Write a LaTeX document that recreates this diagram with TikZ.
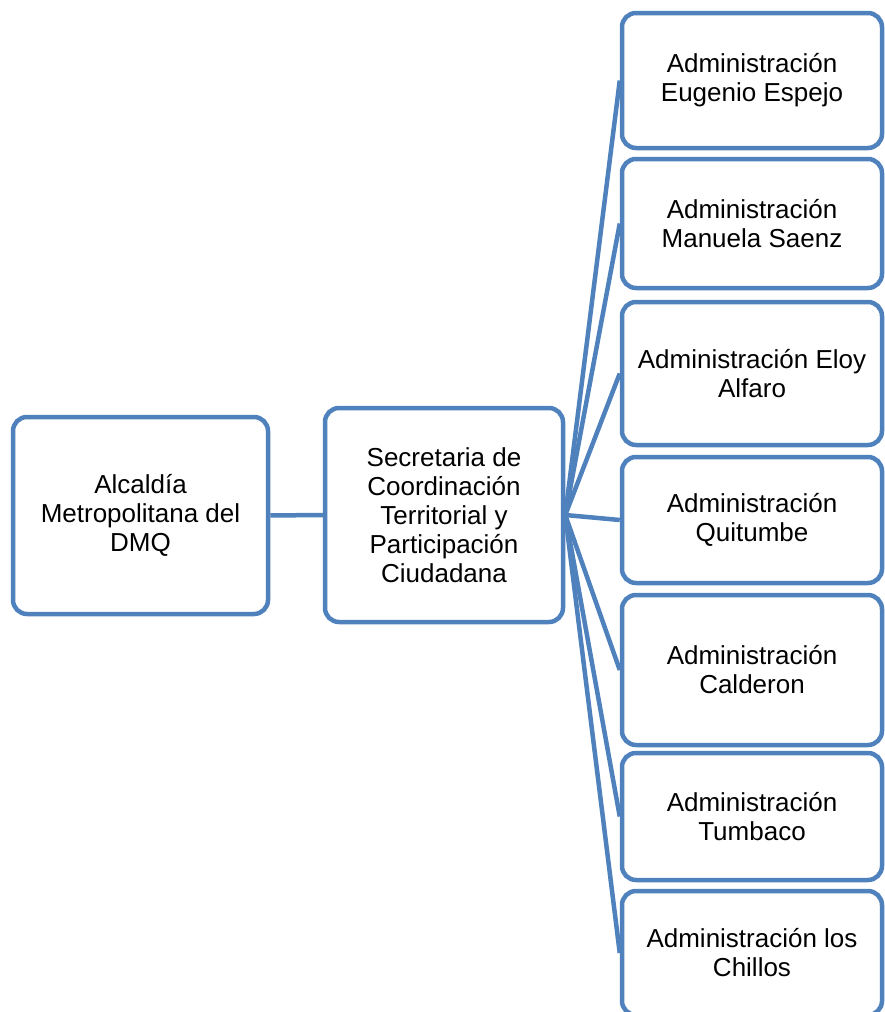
\documentclass[tikz,border=0pt]{standalone}
\usepackage{fontspec}
\setmainfont{Liberation Sans}
\usepackage{xcolor}
\usepackage{tikz}
\usetikzlibrary{positioning}
\definecolor{orgblue}{RGB}{79,129,189}

\begin{document}
\begin{tikzpicture}[x=1pt,y=-1pt,
                    org node/.style={rectangle,rounded corners=14pt,draw=orgblue,line width=4.5pt,fill=white,align=center,inner sep=0pt,font=\fontsize{26}{29}\selectfont},
                    org line/.style={draw=orgblue,line width=4.5pt}]
\useasboundingbox (0,0) rectangle (885,1012);
\clip (0,0) rectangle (885,1012);

\node[org node,minimum width=255pt,minimum height=197pt] (alcaldia) at (140.5,515.5) {Alcaldía\\Metropolitana del\\DMQ};
\node[org node,minimum width=238pt,minimum height=214pt] (secretaria) at (444,515) {Secretaria de\\Coordinación\\Territorial y\\Participación\\Ciudadana};

\draw[org line] (alcaldia) -- (secretaria);

 \foreach \n/\y/\h/\txt in {1/80.5/135/{Administración\\Eugenio Espejo},
                            2/223.5/129/{Administración\\Manuela Saenz},
                            3/373.5/143/{Administración Eloy\\Alfaro},
                            4/520/126/{Administración\\Quitumbe},
                            5/670/150/{Administración\\Calderon},
                            6/816.5/127/{Administración\\Tumbaco},
                            7/953/124/{Administración los\\Chillos}}
   {\node[org node,minimum width=260pt,minimum height=\h pt] (adm\n) at (752,\y) {\txt};
    \draw[org line] (secretaria.east) -- (adm\n.west);}

\end{tikzpicture}
\end{document}
